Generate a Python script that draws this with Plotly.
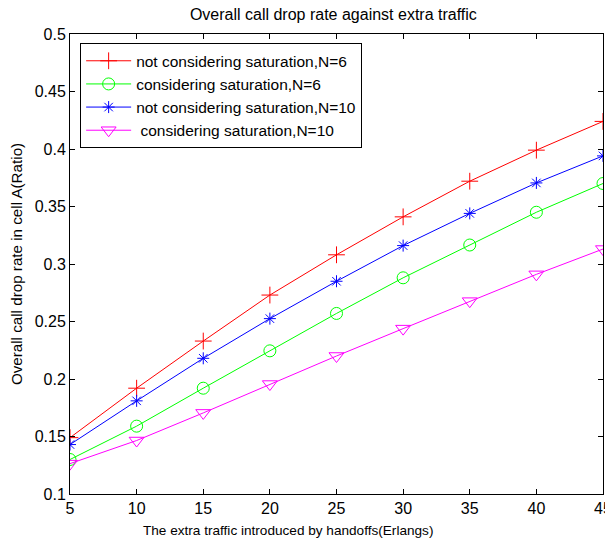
import plotly.graph_objects as go

x_traffic = [5, 10, 15, 20, 25, 30, 35, 40, 45]
not_sat_n6 = [0.149, 0.192, 0.233, 0.273, 0.308, 0.341, 0.372, 0.399, 0.424]
sat_n6 = [0.130, 0.159, 0.192, 0.2245, 0.257, 0.288, 0.3165, 0.345, 0.370]
not_sat_n10 = [0.143, 0.181, 0.218, 0.2525, 0.285, 0.316, 0.344, 0.3705, 0.394]
sat_n10 = [0.1264, 0.1465, 0.1705, 0.1956, 0.220, 0.2438, 0.2677, 0.291, 0.313]

names = ["not considering saturation,N=6", "considering saturation,N=6",
         "not considering saturation,N=10", " considering saturation,N=10"]
series = [not_sat_n6, sat_n6, not_sat_n10, sat_n10]
colors = ["#ff0000", "#00ff00", "#0000ff", "#ff00ff"]
symbols = ["cross-thin-open", "circle-open", "asterisk-open", "triangle-down-open"]
sizes = [12, 12, 10, 13]

fig = go.Figure()
for nm, ys, c, s, sz in zip(names, series, colors, symbols, sizes):
    fig.add_trace(go.Scatter(
        x=x_traffic, y=ys, name=nm, mode="lines+markers",
        line=dict(color=c, width=1),
        marker=dict(symbol=s, size=sz, color=c, line=dict(color=c, width=1)),
    ))

font_family = "Liberation Sans, Arial, sans-serif"
fig.update_layout(
    width=605, height=544,
    margin=dict(l=70, r=2, t=34, b=50, autoexpand=False),
    paper_bgcolor="white", plot_bgcolor="white",
    font=dict(family=font_family, size=15, color="black"),
    title=dict(text="Overall call drop rate against extra traffic",
               xref="container", yref="container",
               x=0.551, xanchor="center", y=1 - 14 / 544, yanchor="middle",
               font=dict(size=16, color="black")),
    showlegend=True,
    legend=dict(x=0.019, y=0.98, xanchor="left", yanchor="top",
                bgcolor="white", bordercolor="black", borderwidth=1,
                font=dict(size=15.5), tracegroupgap=0, itemwidth=45),
    xaxis=dict(range=[5, 45], tickmode="linear", tick0=5, dtick=5,
               showline=True, linecolor="black", linewidth=1, mirror="ticks",
               ticks="inside", ticklen=5, tickcolor="black", showgrid=False,
               zeroline=False, tickfont=dict(size=16), ticklabeloverflow="allow",
               automargin=False),
    yaxis=dict(range=[0.1, 0.5], tickmode="linear", tick0=0.1, dtick=0.05,
               showline=True, linecolor="black", linewidth=1, mirror="ticks",
               ticks="inside", ticklen=5, tickcolor="black", showgrid=False,
               zeroline=False, tickfont=dict(size=16), automargin=False,
               title=dict(text="Overall call drop rate in cell A(Ratio)",
                          font=dict(size=15.2), standoff=8)),
    annotations=[dict(text="The extra traffic introduced by handoffs(Erlangs)",
                      xref="paper", yref="paper", x=0.409, y=-0.08,
                      xanchor="center", yanchor="middle", showarrow=False,
                      font=dict(size=13.6, color="black"))],
)

fig.write_html("out.html", config={"displayModeBar": False},
               post_script="document.body.style.margin='0';document.body.style.overflow='hidden';")
